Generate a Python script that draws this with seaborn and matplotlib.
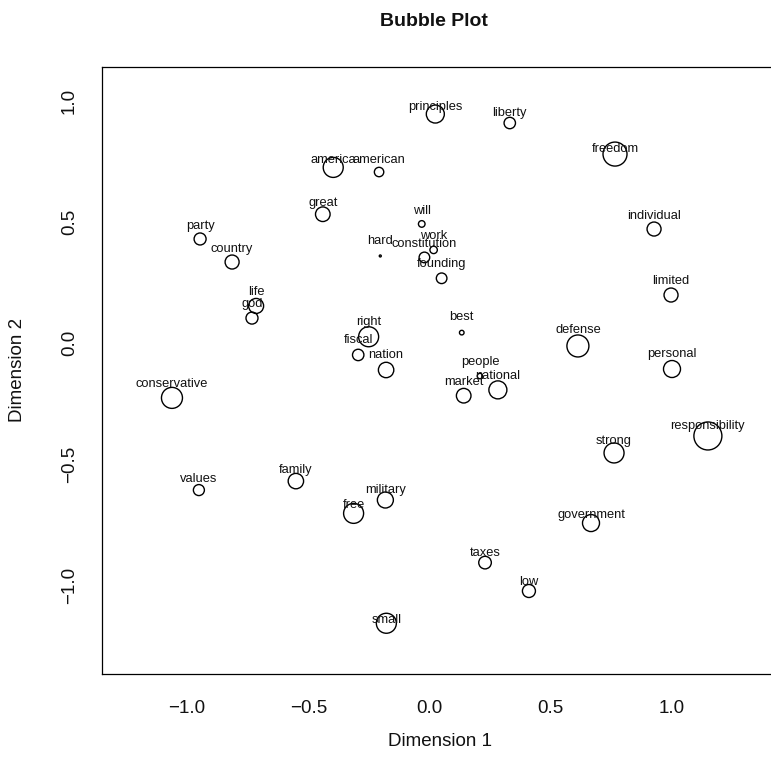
import numpy as np
import pandas as pd
import matplotlib
matplotlib.use("Agg")
import matplotlib.pyplot as plt
import seaborn as sns

# ---- data ----
words = ["principles", "liberty", "america", "american", "freedom", "great", "will",
         "individual", "party", "hard", "work", "constitution", "country", "founding",
         "limited", "life", "god", "best", "right", "defense", "fiscal", "nation",
         "personal", "people", "national", "market", "conservative", "responsibility",
         "strong", "family", "values", "military", "free", "government", "taxes",
         "low", "small"]
dim1 = [0.024, 0.331, -0.397, -0.208, 0.765, -0.440, -0.032,
        0.926, -0.946, -0.203, 0.017, -0.021, -0.814, 0.050,
        0.996, -0.715, -0.732, 0.133, -0.251, 0.612, -0.294, -0.179,
        1.000, 0.208, 0.282, 0.141, -1.062, 1.148,
        0.761, -0.551, -0.951, -0.182, -0.313, 0.666, 0.229,
        0.410, -0.178]
dim2 = [0.945, 0.908, 0.725, 0.706, 0.780, 0.532, 0.492,
        0.471, 0.430, 0.360, 0.385, 0.354, 0.335, 0.268,
        0.199, 0.154, 0.104, 0.044, 0.027, -0.011, -0.048, -0.110,
        -0.106, -0.135, -0.192, -0.216, -0.225, -0.382,
        -0.452, -0.568, -0.605, -0.646, -0.701, -0.741, -0.904,
        -1.021, -1.154]
label_dim2 = [0.975, 0.948, 0.756, 0.756, 0.801, 0.577, 0.545,
              0.525, 0.484, 0.422, 0.442, 0.411, 0.389, 0.328,
              0.257, 0.211, 0.162, 0.110, 0.089, 0.055, 0.014, -0.048,
              -0.044, -0.076, -0.134, -0.158, -0.168, -0.341,
              -0.403, -0.522, -0.559, -0.605, -0.667, -0.708, -0.863,
              -0.984, -1.141]
bubble = [9.0, 5.7, 10.0, 4.7, 12.0, 7.3, 3.3,
          7.0, 6.0, 1.0, 3.7, 5.3, 7.0, 5.3,
          7.0, 7.5, 6.0, 2.3, 10.0, 11.0, 5.7, 7.7,
          8.5, 2.7, 9.0, 7.3, 10.5, 14.0,
          10.0, 7.7, 5.5, 8.0, 10.0, 8.5, 6.3,
          6.5, 10.0]
ticks = [-1.0, -0.5, 0.0, 0.5, 1.0]

df = pd.DataFrame({"word": words, "Dimension 1": dim1, "Dimension 2": dim2,
                   "label_y": label_dim2, "bubble": bubble})
df["area"] = df["bubble"] ** 2

sns.set_style("white")
plt.rcParams["font.family"] = ["Liberation Sans", "DejaVu Sans"]
plt.rcParams["axes.unicode_minus"] = True

W, H = 771, 767
fig = plt.figure(figsize=(W / 100, H / 100), dpi=100)
left_px, right_px, top_px, bot_px = 101.7, 778.0, 66.7, 674.0
ax = fig.add_axes([left_px / W, (H - bot_px) / H, (right_px - left_px) / W, (bot_px - top_px) / H])

amax = max(df["area"])
k = (2 * 0.72) ** 2
sns.scatterplot(data=df, x="Dimension 1", y="Dimension 2", size="area",
                sizes=(0, k * amax), size_norm=(0, amax),
                facecolors="none", edgecolor="black", linewidth=1.0,
                legend=False, ax=ax)

for w, xv, ly in zip(df["word"], df["Dimension 1"], df["label_y"]):
    ax.text(xv, ly, w, ha="center", va="center", fontsize=9.3, color="#111111")

x0px, xscale = 429.5, 242.5
y0px, yscale = 343.3, 242.6
ax.set_xlim((left_px - x0px) / xscale, (right_px - x0px) / xscale)
ax.set_ylim((y0px - bot_px) / yscale, (y0px - top_px) / yscale)

ax.set_xticks(ticks)
ax.set_yticks(ticks)
ax.set_xticklabels([f"{t:.1f}".replace("-", "\u2212") for t in ticks])
ax.set_yticklabels([f"{t:.1f}".replace("-", "\u2212") for t in ticks])
ax.tick_params(axis="both", direction="out", length=8, width=0.9, color="black",
               labelsize=13.5, labelcolor="#111111")
ax.tick_params(axis="x", pad=11)
ax.tick_params(axis="y", pad=9, labelrotation=90)
for lbl in ax.get_yticklabels():
    lbl.set_va("center")

for sp in ax.spines.values():
    sp.set_color("black")
    sp.set_linewidth(0.9)
    sp.set_visible(True)

ax.set_xlabel("Dimension 1", fontsize=13.5, color="#111111")
ax.set_ylabel("Dimension 2", fontsize=13.5, color="#111111")
ax_h = bot_px - top_px
ax_w = right_px - left_px
ax.xaxis.set_label_coords(0.5, -(741 - bot_px) / ax_h)
ax.xaxis.label.set_va("center")
ax.yaxis.set_label_coords((18 - left_px) / ax_w, 0.5)
ax.yaxis.label.set_va("center")

ax.set_title("Bubble Plot", fontsize=14, fontweight="bold", color="#111111",
             x=(434 - left_px) / ax_w, y=(bot_px - 22) / ax_h, va="center", pad=0)

fig.savefig("out.png", dpi=100)
